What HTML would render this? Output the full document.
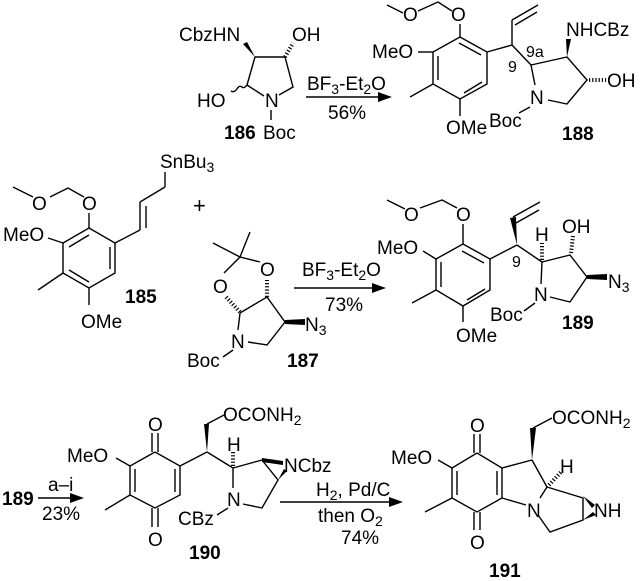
<!DOCTYPE html>
<html><head><meta charset="utf-8"><style>
html,body{margin:0;padding:0;background:#fff;}
svg{display:block;}
text{font-family:"Liberation Sans",Arial,sans-serif;font-size:19px;fill:#000;}
.b{font-weight:bold;}
.s{font-size:14px;}
line,polyline,path{stroke:#000;stroke-width:1.4;fill:none;}
.h{stroke-width:4;stroke-dasharray:1.2 2;}
polygon{fill:#000;stroke:none;}
</style></head><body>
<svg width="640" height="581" viewBox="0 0 640 581" xmlns="http://www.w3.org/2000/svg">

<!-- 186 -->
<text x="179" y="41">CbzHN</text>
<text x="292" y="41">OH</text>
<polyline points="247,85 255,57 285,57 293,87 279,95"/>
<line x1="247" y1="85" x2="264" y2="96"/>
<polygon points="255,57 243,44 247,42"/>
<line class="h" x1="285" y1="57" x2="293" y2="43"/>
<path d="M247,85 q-3,4 -5,2 q-3,-2 -5,2 q-3,4 -6,2"/>
<text x="197" y="107">HO</text>
<text x="265" y="107">N</text>
<line x1="271" y1="110" x2="271" y2="120"/>
<text x="263" y="139">Boc</text>
<text class="b" x="224" y="139">186</text>

<!-- arrow 1 -->
<text x="307" y="90">BF<tspan class="s" dy="4">3</tspan><tspan dy="-4">-Et</tspan><tspan class="s" dy="4">2</tspan><tspan dy="-4">O</tspan></text>
<line x1="306" y1="97" x2="382" y2="97"/>
<polygon points="392,97 378,92 378,102"/>
<text x="328" y="119">56%</text>

<!-- 188 -->
<polyline points="387,5 403,13"/>
<text x="403" y="21">O</text>
<polyline points="418,11 438,2 452,11"/>
<text x="451" y="21">O</text>
<line x1="460" y1="24" x2="460" y2="37"/>
<polyline points="460,37 487,52 487,84 460,99 433,84 433,52 460,37"/>
<line x1="459" y1="43" x2="481" y2="55"/>
<line x1="438" y1="56" x2="438" y2="80"/>
<line x1="464" y1="93" x2="482" y2="82"/>
<text x="372" y="58">MeO</text>
<line x1="418" y1="52" x2="433" y2="52"/>
<line x1="433" y1="84" x2="410" y2="97"/>
<line x1="460" y1="99" x2="460" y2="116"/>
<text x="446" y="134">OMe</text>
<line x1="487" y1="52" x2="512" y2="45"/>
<line x1="512" y1="45" x2="512" y2="20"/>
<line x1="512" y1="20" x2="538" y2="5"/>
<line x1="515" y1="25" x2="537" y2="12"/>
<line x1="512" y1="45" x2="531" y2="65"/>
<text x="508" y="72" style="font-size:16px">9</text>
<text x="526" y="57" style="font-size:16px">9a</text>
<polyline points="531,65 567,57 587,80 567,104 548,100"/>
<line x1="531" y1="65" x2="535" y2="85"/>
<polygon points="567,57 566,39 571,39"/>
<text x="566" y="36">NHCBz</text>
<line class="h" x1="589" y1="80" x2="606" y2="80"/>
<text x="607" y="87">OH</text>
<text x="530" y="104">N</text>
<line x1="530" y1="107" x2="519" y2="113"/>
<text x="489" y="127">Boc</text>
<text class="b" x="562" y="140">188</text>

<!-- 185 -->
<text x="160" y="168">SnBu<tspan class="s" dy="4">3</tspan></text>
<line x1="165" y1="172" x2="165" y2="187"/>
<line x1="165" y1="187" x2="140" y2="202"/>
<line x1="140" y1="202" x2="140" y2="230"/>
<line x1="146" y1="206" x2="146" y2="228"/>
<line x1="140" y1="230" x2="115" y2="243"/>
<polyline points="89,228 115,243 115,273 89,288 63,273 63,243 89,228"/>
<line x1="110" y1="247" x2="110" y2="269"/>
<line x1="89" y1="282" x2="69" y2="270"/>
<line x1="69" y1="247" x2="89" y2="235"/>
<line x1="89" y1="228" x2="89" y2="213"/>
<text x="82" y="210">O</text>
<polyline points="84,197 68,188 50,197"/>
<text x="32" y="210">O</text>
<line x1="33" y1="197" x2="13" y2="187"/>
<text x="3" y="241">MeO</text>
<line x1="48" y1="238" x2="63" y2="243"/>
<line x1="63" y1="273" x2="38" y2="290"/>
<line x1="89" y1="288" x2="89" y2="305"/>
<text x="81" y="328">OMe</text>
<text class="b" x="125" y="303">185</text>
<text x="193" y="213" style="font-size:22px">+</text>

<!-- 187 -->
<line x1="240" y1="257" x2="213" y2="243"/>
<line x1="240" y1="257" x2="250" y2="232"/>
<line x1="240" y1="257" x2="224" y2="273"/>
<line x1="240" y1="257" x2="260" y2="262"/>
<text x="213" y="293">O</text>
<text x="260" y="276">O</text>
<line class="h" x1="240" y1="312" x2="226" y2="297"/>
<line class="h" x1="267" y1="297" x2="267" y2="280"/>
<polyline points="240,313 267,297 285,322 267,345 248,342"/>
<line x1="240" y1="313" x2="238" y2="330"/>
<polygon points="285,320 305,319 305,325 285,324"/>
<text x="305" y="331">N<tspan class="s" dy="4">3</tspan></text>
<text x="231" y="348">N</text>
<line x1="233" y1="350" x2="223" y2="357"/>
<text x="187" y="367">Boc</text>
<text class="b" x="287" y="367">187</text>

<!-- arrow 2 -->
<text x="302" y="276">BF<tspan class="s" dy="4">3</tspan><tspan dy="-4">-Et</tspan><tspan class="s" dy="4">2</tspan><tspan dy="-4">O</tspan></text>
<line x1="294" y1="288" x2="376" y2="288"/>
<polygon points="386,288 372,283 372,293"/>
<text x="325" y="311">73%</text>

<!-- 189 -->
<line x1="387" y1="200" x2="405" y2="209"/>
<text x="404" y="221">O</text>
<polyline points="420,208 442,200 457,208"/>
<text x="456" y="221">O</text>
<line x1="463" y1="224" x2="463" y2="244"/>
<polyline points="463,244 490,259 490,290 463,306 436,290 436,259 463,244"/>
<line x1="462" y1="251" x2="484" y2="263"/>
<line x1="441" y1="262" x2="441" y2="287"/>
<line x1="467" y1="300" x2="485" y2="289"/>
<text x="377" y="254">MeO</text>
<line x1="423" y1="251" x2="436" y2="259"/>
<line x1="436" y1="290" x2="412" y2="303"/>
<line x1="463" y1="306" x2="463" y2="322"/>
<text x="456" y="342">OMe</text>
<line x1="490" y1="259" x2="517" y2="245"/>
<polygon points="517,245 510,218 516,217"/>
<line x1="513" y1="217" x2="540" y2="202"/>
<line x1="516" y1="223" x2="539" y2="210"/>
<text x="512" y="267" style="font-size:16px">9</text>
<line x1="517" y1="245" x2="542" y2="262"/>
<line class="h" x1="542" y1="260" x2="542" y2="243"/>
<text x="535" y="241">H</text>
<polyline points="542,262 570,255 587,277 570,302 550,297"/>
<line x1="542" y1="262" x2="541" y2="284"/>
<line class="h" x1="571" y1="253" x2="573" y2="236"/>
<text x="562" y="233">OH</text>
<polygon points="587,275 607,274 607,280 587,279"/>
<text x="608" y="288">N<tspan class="s" dy="4">3</tspan></text>
<text x="534" y="301">N</text>
<line x1="535" y1="303" x2="524" y2="311"/>
<text x="490" y="321">Boc</text>
<text class="b" x="562" y="329">189</text>

<!-- arrow a-i -->
<text class="b" x="2" y="505">189</text>
<text x="48" y="491">a–i</text>
<line x1="38" y1="498" x2="74" y2="498"/>
<polygon points="84,498 70,493 70,503"/>
<text x="42" y="520">23%</text>

<!-- 190 -->
<polyline points="155,452 180,466 180,495 155,508 130,495 130,466 155,452"/>
<line x1="135" y1="469" x2="135" y2="492"/>
<line x1="175" y1="469" x2="175" y2="492"/>
<line x1="152" y1="452" x2="152" y2="433"/>
<line x1="158" y1="452" x2="158" y2="433"/>
<text x="148" y="431">O</text>
<line x1="152" y1="508" x2="152" y2="527"/>
<line x1="158" y1="508" x2="158" y2="527"/>
<text x="148" y="546">O</text>
<text x="67" y="462">MeO</text>
<line x1="116" y1="458" x2="130" y2="466"/>
<line x1="130" y1="495" x2="105" y2="510"/>
<line x1="180" y1="466" x2="207" y2="452"/>
<polygon points="207,452 204,424 209,424"/>
<line x1="207" y1="424" x2="224" y2="415"/>
<text x="223" y="421">OCONH<tspan class="s" dy="4">2</tspan></text>
<line x1="207" y1="452" x2="233" y2="468"/>
<line class="h" x1="233" y1="466" x2="233" y2="452"/>
<text x="227" y="451">H</text>
<polyline points="233,468 262,460 278,480 262,508 243,504"/>
<line x1="233" y1="468" x2="233" y2="488"/>
<polygon points="262,458 283,461 283,465 262,462"/>
<polygon points="278,480 284,469 287,471"/>
<text x="284" y="472">NCbz</text>
<text x="227" y="506">N</text>
<line x1="228" y1="508" x2="217" y2="515"/>
<text x="178" y="525">CBz</text>
<text class="b" x="189" y="559">190</text>

<!-- arrow 3 -->
<text x="316" y="496">H<tspan class="s" dy="4">2</tspan><tspan dy="-4">, Pd/C</tspan></text>
<line x1="280" y1="502" x2="393" y2="502"/>
<polygon points="403,502 389,497 389,507"/>
<text x="318" y="522">then O<tspan class="s" dy="4">2</tspan></text>
<text x="341" y="544">74%</text>

<!-- 191 -->
<polyline points="477,453 502,468 502,498 477,512 452,498 452,468 477,453"/>
<line x1="457" y1="471" x2="457" y2="495"/>
<line x1="497" y1="471" x2="497" y2="495"/>
<line x1="474" y1="453" x2="474" y2="434"/>
<line x1="480" y1="453" x2="480" y2="434"/>
<text x="470" y="432">O</text>
<line x1="474" y1="512" x2="474" y2="530"/>
<line x1="480" y1="512" x2="480" y2="530"/>
<text x="470" y="549">O</text>
<text x="391" y="464">MeO</text>
<line x1="438" y1="460" x2="452" y2="468"/>
<line x1="452" y1="498" x2="425" y2="512"/>
<line x1="502" y1="468" x2="532" y2="460"/>
<polygon points="532,460 530,428 536,428"/>
<line x1="533" y1="428" x2="552" y2="418"/>
<text x="552" y="424">OCONH<tspan class="s" dy="4">2</tspan></text>
<line x1="502" y1="498" x2="526" y2="505"/>
<line x1="532" y1="460" x2="547" y2="487"/>
<line x1="547" y1="487" x2="540" y2="498"/>
<line class="h" x1="549" y1="485" x2="561" y2="472"/>
<text x="560" y="473">H</text>
<polyline points="547,487 583,498 583,520 550,532 538,515"/>
<polygon points="583,496 595,505 592,508"/>
<polygon points="583,520 593,512 596,515"/>
<text x="594" y="517">NH</text>
<text x="527" y="517">N</text>
<text class="b" x="489" y="577">191</text>
</svg>
</body></html>
